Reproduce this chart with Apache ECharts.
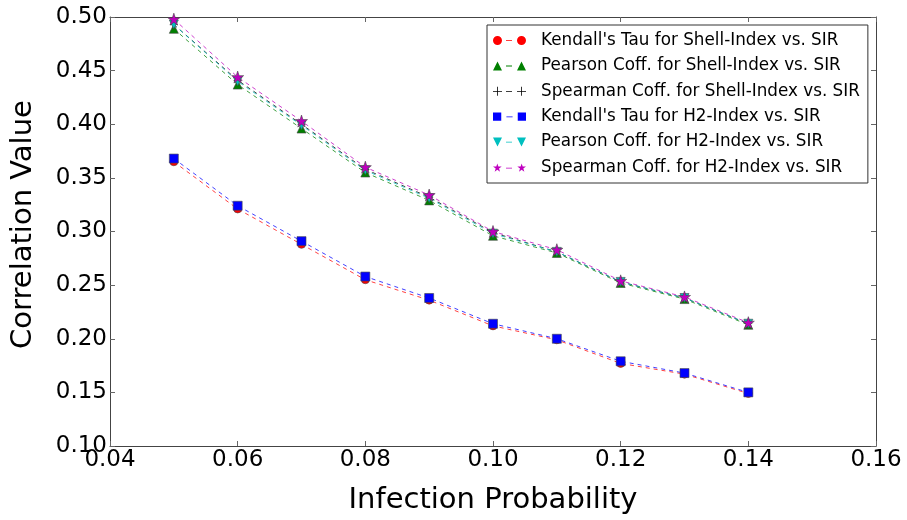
<!DOCTYPE html>
<html>
<head>
<meta charset="utf-8">
<script src="https://cdn.jsdelivr.net/npm/echarts@6/dist/echarts.min.js"></script>
<style>
  html, body { margin: 0; padding: 0; background: #fff; }
  #main { width: 907px; height: 520px; }
</style>
</head>
<body>
<div id="main"></div>
<script>
// infection probabilities (x)
var probs = [0.05, 0.06, 0.07, 0.08, 0.09, 0.10, 0.11, 0.12, 0.13, 0.14];

var kendallShell  = [0.365, 0.321, 0.288, 0.255, 0.236, 0.212, 0.199, 0.177, 0.167, 0.149];
var pearsonShell  = [0.489, 0.437, 0.396, 0.355, 0.329, 0.296, 0.280, 0.252, 0.237, 0.213];
var spearmanShell = [0.493, 0.441, 0.400, 0.358, 0.332, 0.299, 0.281, 0.253, 0.238, 0.214];
var kendallH2     = [0.368, 0.324, 0.291, 0.258, 0.238, 0.214, 0.200, 0.179, 0.168, 0.150];
var pearsonH2     = [0.493, 0.440, 0.399, 0.357, 0.331, 0.298, 0.281, 0.253, 0.238, 0.214];
var spearmanH2    = [0.498, 0.444, 0.403, 0.360, 0.334, 0.300, 0.283, 0.254, 0.239, 0.215];

var seriesNames = [
  "Kendall's Tau for Shell-Index vs. SIR",
  "Pearson Coff. for Shell-Index vs. SIR",
  "Spearman Coff. for Shell-Index vs. SIR",
  "Kendall's Tau for H2-Index vs. SIR",
  "Pearson Coff. for H2-Index vs. SIR",
  "Spearman Coff. for H2-Index vs. SIR"
];

var xTicks = [0.04, 0.16, 0.02];
var yTicks = [0.10, 0.50, 0.05];

window.onload = function () {
  var myChart = echarts.init(document.getElementById('main'));
  var font = 'DejaVu Sans';

  // marker shapes in a 9x9 cell, shifted by ox
  function circle(ox)  { return 'M' + ox + ',4.5 a4.5,4.5 0 1,0 9,0 a4.5,4.5 0 1,0 -9,0 Z'; }
  function triUp(ox)   { return 'M' + (ox + 4.5) + ',0 L' + (ox + 9) + ',9 L' + ox + ',9 Z'; }
  function triDown(ox) { return 'M' + ox + ',0 L' + (ox + 9) + ',0 L' + (ox + 4.5) + ',9 Z'; }
  function square(ox)  { return 'M' + ox + ',0.5 h8 v8 h-8 Z'; }
  function plus(ox)    { return 'M' + (ox + 4.1) + ',0 h0.8 v4.1 h4.1 v0.8 h-4.1 v4.1 h-0.8 v-4.1 h-4.1 v-0.8 h4.1 Z'; }
  function star(ox) {
    var pts = [[50,0],[61.2,34.5],[97.6,34.5],[68.2,55.9],[79.4,90.5],[50,69.1],[20.6,90.5],[31.8,55.9],[2.4,34.5],[38.8,34.5]];
    return pts.map(function (p, i) {
      return (i ? 'L' : 'M') + (ox + p[0] * 0.09).toFixed(2) + ',' + (p[1] * 0.09).toFixed(2);
    }).join(' ') + ' Z';
  }
  var dash = 'M13,4.2 h6 v0.8 h-6 Z';
  function legendIcon(f) { return 'path://' + f(0) + ' ' + dash + ' ' + f(24); }

  var defs = [
    { data: kendallShell,  color: '#ff0000', shape: circle,  size: 8 },
    { data: pearsonShell,  color: '#008000', shape: triUp,   size: 9 },
    { data: spearmanShell, color: '#000000', shape: plus,    size: 8 },
    { data: kendallH2,     color: '#0000ff', shape: square,  size: 9 },
    { data: pearsonH2,     color: '#00bfbf', shape: triDown, size: 9 },
    { data: spearmanH2,    color: '#bf00bf', shape: star,    size: 12 }
  ];

  var series = defs.map(function (d, i) {
    return {
      name: seriesNames[i],
      type: 'line',
      data: probs.map(function (x, k) { return [x, d.data[k]]; }),
      symbol: 'path://' + d.shape(0),
      symbolSize: d.size,
      showAllSymbol: true,
      lineStyle: { color: d.color, width: 1, type: [4, 4], opacity: 0.75 },
      itemStyle: { color: d.color, borderColor: '#444', borderWidth: i === 2 ? 0 : 0.6 },
      emphasis: { disabled: true },
      animation: false
    };
  });

  function axisCommon(showLabel) {
    return {
      axisLine: { show: true, lineStyle: { color: '#444', width: 1 } },
      axisTick: { show: true, inside: true, length: 5, lineStyle: { color: '#666' } },
      splitLine: { show: false },
      axisLabel: { show: showLabel, color: '#000', fontSize: 23, fontFamily: font, margin: 3 }
    };
  }

  var xBottom = Object.assign({
    type: 'value', min: xTicks[0], max: xTicks[1], interval: xTicks[2],
    name: 'Infection Probability', nameLocation: 'middle', nameGap: 40,
    nameTextStyle: { fontSize: 29, fontFamily: font, color: '#000' }
  }, axisCommon(true));
  xBottom.axisLabel.formatter = function (v) { return v.toFixed(2); };
  var xTop = Object.assign({
    type: 'value', position: 'top', min: xTicks[0], max: xTicks[1], interval: xTicks[2]
  }, axisCommon(false));

  var yLeft = Object.assign({
    type: 'value', min: yTicks[0], max: yTicks[1], interval: yTicks[2],
    name: 'Correlation Value', nameLocation: 'middle', nameGap: 72,
    nameTextStyle: { fontSize: 29, fontFamily: font, color: '#000', padding: [0, 0, 0, 14] }
  }, axisCommon(true));
  yLeft.axisLabel.formatter = function (v) { return v.toFixed(2); };
  yLeft.axisLabel.margin = 3;
  var yRight = Object.assign({
    type: 'value', position: 'right', min: yTicks[0], max: yTicks[1], interval: yTicks[2]
  }, axisCommon(false));

  var option = {
    backgroundColor: '#fff',
    animation: false,
    grid: { left: 110, right: 31, top: 17, bottom: 71 },
    legend: {
      orient: 'vertical',
      left: 487, top: 25,
      padding: [7, 8, 7, 6],
      borderColor: '#333', borderWidth: 1,
      backgroundColor: '#fff',
      itemWidth: 33, itemHeight: 9, itemGap: 8.4,
      itemStyle: { borderWidth: 0 },
      textStyle: { fontSize: 16.8, lineHeight: 17, fontFamily: font, color: '#000', padding: [0, 0, 0, 10] },
      data: seriesNames.map(function (n, i) {
        return { name: n, icon: legendIcon(defs[i].shape) };
      }),
      selectedMode: false
    },
    xAxis: [xBottom, xTop],
    yAxis: [yLeft, yRight],
    series: series
  };
  myChart.setOption(option);
};
</script>
</body>
</html>
